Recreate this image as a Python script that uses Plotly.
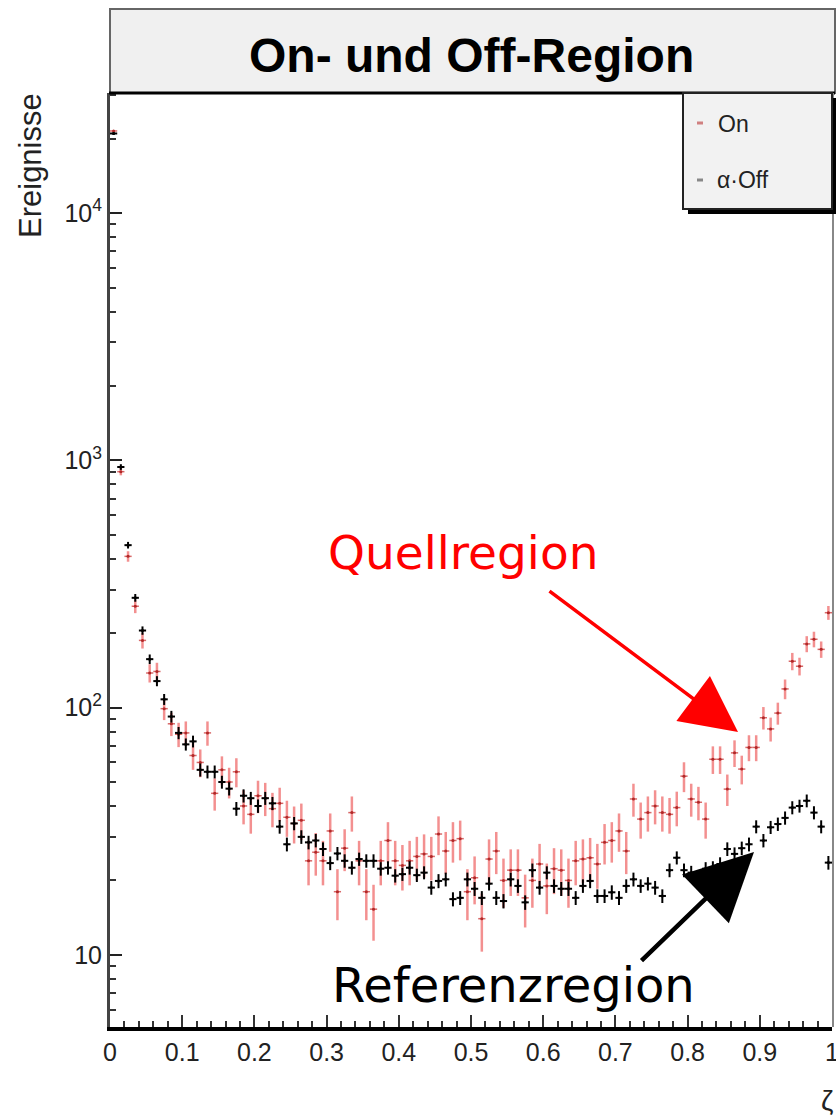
import plotly.graph_objects as go

# ---------------- data ----------------
bin_centers = [round(0.005 + 0.01 * i, 3) for i in range(100)]

on_counts = [21500, 900, 409, 257, 187, 138, 140, 99, 86, 78,
             79, 64, 60, 79, 45, 56, 50, 55, 40, 37,
             44, 43, 39, 41, 36, 34, 35, 24, 26, 24,
             31.7, 18, 27, 37.6, 24, 18, 15.3, 24, 29, 24,
             23, 24, 25, 25.6, 25, 30.8, 26.3, 29, 29.5, 18,
             20.5, 14, 24.4, 26.3, 20, 22, 22, 17, 20, 23.3,
             19, 22.3, 22, 20, 24, 24.4, 24.7, 23.3, 28.5, 29,
             31.7, 26.3, 42.7, 35.4, 37.6, 40, 37.6, 37, 39.4, 52.8,
             42.7, 41.4, 35.4, 61.8, 61.8, 46.8, 65.6, 56.4, 69, 69,
             91, 82, 95, 119, 154, 147, 181, 189, 172, 242]

on_errors = [147, 30, 20, 16, 13.7, 11.7, 11.8, 10, 9.3, 8.8,
             8.9, 8, 7.7, 8.9, 6.7, 7.5, 7.1, 7.4, 6.3, 6.1,
             6.6, 6.6, 6.2, 6.4, 6, 5.8, 5.9, 4.9, 5.1, 4.9,
             5.6, 4.2, 5.2, 6.1, 4.9, 4.2, 3.9, 4.9, 5.4, 4.9,
             4.8, 4.9, 5, 5.1, 5, 5.5, 5.1, 5.4, 5.4, 4.2,
             4.5, 3.7, 4.9, 5.1, 4.5, 4.7, 4.7, 4.1, 4.5, 4.8,
             4.4, 4.7, 4.7, 4.5, 4.9, 4.9, 5, 4.8, 5.3, 5.4,
             5.6, 5.1, 6.5, 5.9, 6.1, 6.3, 6.1, 6.1, 6.3, 7.3,
             6.5, 6.4, 5.9, 7.9, 7.9, 6.8, 8.1, 7.5, 8.3, 8.3,
             9.5, 9.1, 9.7, 10.9, 12.4, 12.1, 13.5, 13.7, 13.1, 15.6]

off_counts = [21000, 940, 454, 278, 205, 157, 128, 108, 92, 79,
              71, 73, 56, 55, 55, 50, 47, 39, 44, 43,
              40, 43, 41, 33, 28, 34, 30, 28.5, 29, 26.8,
              23.5, 25.7, 24, 22.5, 24.4, 24, 24, 22.3, 22.5, 20.9,
              21.2, 22.5, 21, 21.5, 18.7, 19.9, 20.2, 16.8, 17, 20.2,
              18.5, 17, 19.4, 17, 16.5, 20.2, 19, 16.3, 22, 18.7,
              21.5, 19, 18.5, 18.5, 17, 19, 19.9, 17.3, 17.3, 17.9,
              17, 19, 20.2, 19, 19.4, 18.7, 17.3, 22, 24.7, 22,
              21.5, 20.5, 22.3, 22.5, 23.3, 26.8, 25.6, 27, 28, 33,
              29, 32.8, 33.8, 35.8, 39.4, 40, 42, 37.6, 33, 23.6]

off_errors = [300, 25, 14, 10, 8, 7, 6, 5.5, 5, 4.5,
              4, 4, 3.4, 3.3, 3.3, 3, 2.9, 2.5, 2.7, 2.6,
              2.5, 2.6, 2.5, 2.1, 1.8, 2.1, 1.9, 1.8, 1.8, 1.7,
              1.5, 1.6, 1.5, 1.4, 1.5, 1.5, 1.5, 1.4, 1.4, 1.3,
              1.3, 1.4, 1.3, 1.3, 1.2, 1.3, 1.3, 1.1, 1.1, 1.3,
              1.2, 1.1, 1.2, 1.1, 1.1, 1.3, 1.2, 1.1, 1.4, 1.2,
              1.3, 1.2, 1.2, 1.2, 1.1, 1.2, 1.3, 1.1, 1.1, 1.2,
              1.1, 1.2, 1.3, 1.2, 1.2, 1.2, 1.1, 1.4, 1.5, 1.4,
              1.4, 1.3, 1.4, 1.4, 1.5, 1.7, 1.6, 1.7, 1.8, 2.0,
              1.8, 2.0, 2.1, 2.2, 2.4, 2.4, 2.5, 2.3, 2.0, 1.5]

x_tickvals = [0, 0.1, 0.2, 0.3, 0.4, 0.5, 0.6, 0.7, 0.8, 0.9, 1]
x_ticktext = ["0", "0.1", "0.2", "0.3", "0.4", "0.5", "0.6", "0.7", "0.8", "0.9", "1"]
y_tickvals = [10, 100, 1000, 10000]
y_ticktext = ["10", "10<sup>2</sup>", "10<sup>3</sup>", "10<sup>4</sup>"]
y_minor_tickvals = [6, 7, 8, 9,
                    20, 30, 40, 50, 60, 70, 80, 90,
                    200, 300, 400, 500, 600, 700, 800, 900,
                    2000, 3000, 4000, 5000, 6000, 7000, 8000, 9000,
                    20000, 30000]

title_text = "On- und Off-Region"
legend_labels = ["On", "α·Off"]

# ---------------- geometry helpers (pixels -> paper) ----------------
W, H = 836, 1118
L, R, T, B = 110, 832, 93, 1027


def px(x):
    return (x - L) / (R - L)


def py(y):
    return (B - y) / (B - T)


SANS = "Liberation Sans, Arial, sans-serif"
TICKFONT = dict(family=SANS, size=25, color="#222")

fig = go.Figure()

fig.add_trace(go.Scatter(
    x=bin_centers, y=on_counts, mode="markers", name=legend_labels[0],
    marker=dict(color="#b02828", size=3),
    error_y=dict(type="data", array=on_errors, color="rgba(235,70,70,0.6)", thickness=2.5, width=0),
    error_x=dict(type="constant", value=0.005, color="rgba(200,40,40,0.7)", thickness=1.5, width=0),
    showlegend=False,
))
fig.add_trace(go.Scatter(
    x=bin_centers, y=off_counts, mode="markers", name=legend_labels[1],
    marker=dict(color="black", size=3),
    error_y=dict(type="data", array=off_errors, color="black", thickness=2, width=0),
    error_x=dict(type="constant", value=0.005, color="black", thickness=2, width=0),
    showlegend=False,
))

fig.update_xaxes(
    range=[0, 1], tickvals=x_tickvals, ticktext=x_ticktext,
    ticks="inside", ticklen=12, tickwidth=1.5, tickcolor="#333",
    minor=dict(ticks="inside", ticklen=6, dtick=0.02, tickcolor="#333", showgrid=False),
    showline=True, linecolor="black", linewidth=4, mirror=False,
    showgrid=False, zeroline=False, tickfont=TICKFONT, ticklabeloverflow="allow",
    automargin=False,
)
fig.update_yaxes(
    type="log", range=[0.708, 4.486], tickvals=y_tickvals, ticktext=y_ticktext,
    ticks="inside", ticklen=12, tickwidth=1.5, tickcolor="#222",
    minor=dict(ticks="inside", ticklen=6, tickvals=y_minor_tickvals, tickcolor="#333", showgrid=False),
    showline=True, linecolor="#444", linewidth=3, mirror=False,
    showgrid=False, zeroline=False, tickfont=TICKFONT, automargin=False,
)

shapes = [
    # title box
    dict(type="rect", xref="paper", yref="paper", x0=px(110), x1=px(835), y0=py(93), y1=py(9),
         fillcolor="#f0f0f0", line=dict(color="#666", width=2), layer="below"),
    # top frame line
    dict(type="line", xref="paper", yref="paper", x0=px(109), x1=px(835), y0=py(93), y1=py(93),
         line=dict(color="black", width=3)),
    # right frame line
    dict(type="line", xref="paper", yref="paper", x0=px(833), x1=px(833), y0=py(93), y1=py(1027),
         line=dict(color="#888", width=2)),
    # legend shadow
    dict(type="rect", xref="paper", yref="paper", x0=px(688), x1=px(836), y0=py(214), y1=py(98),
         fillcolor="black", line=dict(width=0)),
    # legend box
    dict(type="rect", xref="paper", yref="paper", x0=px(683), x1=px(832), y0=py(209), y1=py(93),
         fillcolor="#f2f2f2", line=dict(color="#222", width=2)),
    # legend markers
    dict(type="line", xref="paper", yref="paper", x0=px(697), x1=px(703), y0=py(123), y1=py(123),
         line=dict(color="#d08080", width=3)),
    dict(type="line", xref="paper", yref="paper", x0=px(697), x1=px(703), y0=py(180), y1=py(180),
         line=dict(color="#888", width=3)),
]

annotations = [
    dict(text="<b>" + title_text + "</b>", x=px(471), y=py(56), xref="paper", yref="paper",
         showarrow=False, font=dict(family=SANS, size=48, color="black"),
         xanchor="center", yanchor="middle"),
    dict(text=legend_labels[0], x=px(716), y=py(124), xref="paper", yref="paper", showarrow=False,
         font=dict(family=SANS, size=23, color="#222"),
         xanchor="left", yanchor="middle"),
    dict(text=legend_labels[1], x=px(715), y=py(180), xref="paper", yref="paper", showarrow=False,
         font=dict(family=SANS, size=23, color="#222"),
         xanchor="left", yanchor="middle"),
    dict(text="Ereignisse", x=px(30), y=py(166), xref="paper", yref="paper", showarrow=False,
         textangle=-90, font=dict(family=SANS, size=31, color="#222"),
         xanchor="center", yanchor="middle"),
    dict(text="ζ", x=px(827), y=py(1100), xref="paper", yref="paper", showarrow=False,
         font=dict(family=SANS, size=28, color="#222"),
         xanchor="center", yanchor="middle"),
    # Quellregion label + arrow
    dict(text="Quellregion", x=px(463), y=py(552), xref="paper", yref="paper", showarrow=False,
         font=dict(family="DejaVu Sans, sans-serif", size=47, color="#ff0000"),
         xanchor="center", yanchor="middle"),
    dict(text="", x=px(738), y=py(732), xref="paper", yref="paper",
         ax=548 - 738, ay=590 - 732, axref="pixel", ayref="pixel",
         showarrow=True, arrowhead=2, arrowsize=3.2, arrowwidth=3.5, arrowcolor="#ff0000"),
    # Referenzregion label + arrow
    dict(text="Referenzregion", x=px(513), y=py(985), xref="paper", yref="paper", showarrow=False,
         font=dict(family="DejaVu Sans, sans-serif", size=48, color="black"),
         xanchor="center", yanchor="middle"),
    dict(text="", x=px(754), y=py(852), xref="paper", yref="paper",
         ax=640 - 754, ay=962 - 852, axref="pixel", ayref="pixel",
         showarrow=True, arrowhead=2, arrowsize=3.0, arrowwidth=4.5, arrowcolor="black"),
]

fig.update_layout(
    width=W, height=H,
    margin=dict(l=L, r=W - R, t=T, b=H - B),
    paper_bgcolor="white", plot_bgcolor="white",
    shapes=shapes, annotations=annotations,
    showlegend=False,
)

fig.write_html("out.html")
